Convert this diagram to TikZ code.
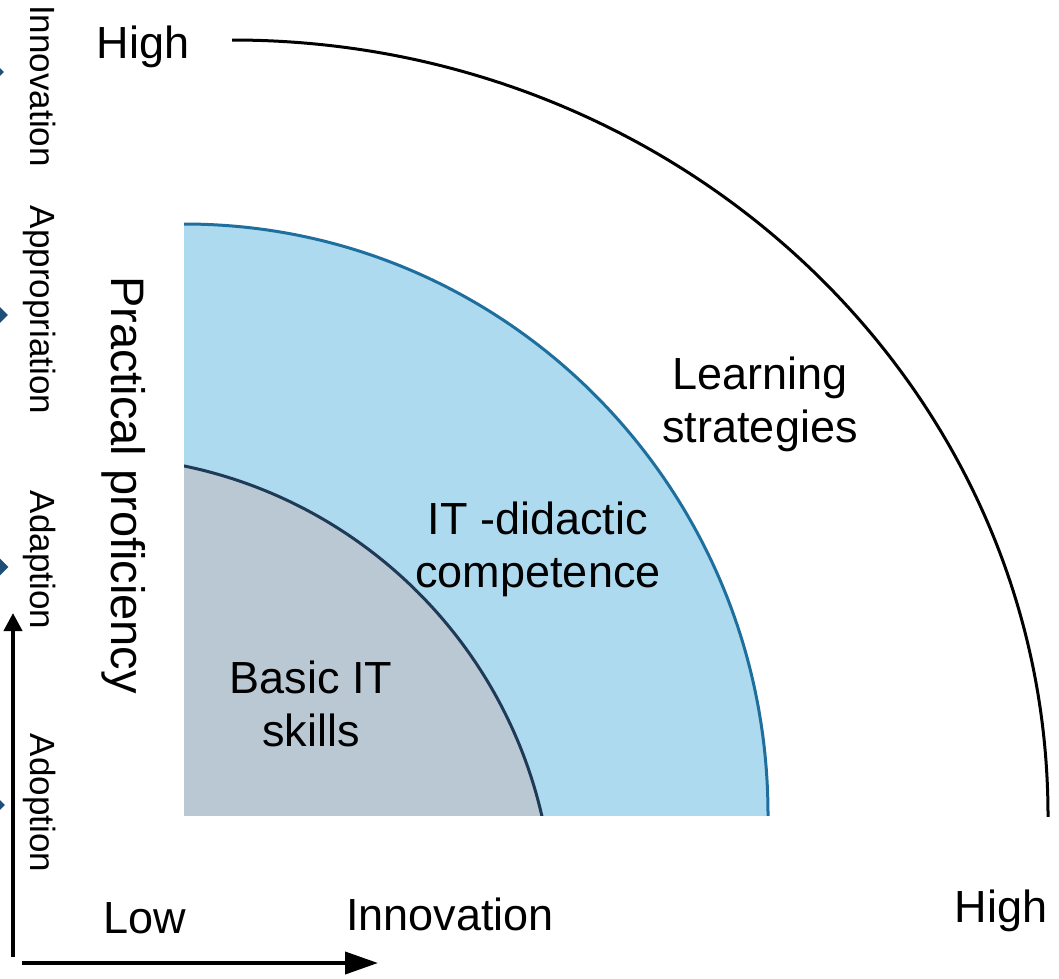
\documentclass[tikz,border=0pt]{standalone}
\usepackage{fontspec}
\setmainfont{Liberation Sans}
\usetikzlibrary{arrows.meta,shapes.geometric}
\definecolor{skyfill}{HTML}{ADDAEF}
\definecolor{skyline}{HTML}{1F6F9E}
\definecolor{greyfill}{HTML}{BAC8D3}
\definecolor{greyline}{HTML}{1E3A56}
\definecolor{navy}{HTML}{1F4E79}
\begin{document}
\begin{tikzpicture}[x=1pt,y=-1pt,
  big/.style={font=\fontsize{45}{53}\selectfont, inner sep=0pt},
  side/.style={font=\fontsize{35}{42}\selectfont, inner sep=0pt, rotate=-90, anchor=base},
  axisline/.style={line width=4pt},
  marker/.style={diamond, fill=navy, inner sep=0pt, draw=none}]
\clip (0,0) rectangle (1059,978);
\fill[white] (0,0) rectangle (1059,978);
% quadrant regions
\begin{scope}
  \clip (184,0) rectangle (1059,815);
  \fill[skyfill] (184,815) ellipse[x radius=584pt, y radius=591pt];
  \draw[skyline, line width=3pt] (184,815) ellipse[x radius=584pt, y radius=591pt];
  \fill[greyfill] (90,920) circle[radius=463.6pt];
  \draw[greyline, line width=3pt] (90,920) circle[radius=463.6pt];
\end{scope}
\begin{scope}
  \clip (232,0) rectangle (1059,816);
  \draw[line width=3pt] (232,816) ellipse[x radius=816pt, y radius=776pt];
\end{scope}
% labels
\node[big, anchor=base] (hightop) at (143,58) {High};
\node[big, anchor=base] (low) at (145,933) {Low};
\node[big, anchor=base] (innov) at (450,930) {Innovation};
\node[big, anchor=base] (highright) at (1001,922) {High};
\node[big, align=center, anchor=north] (learn) at (760,357) {Learning\\strategies};
\node[big, align=center, anchor=north] (itd) at (538,502) {IT -didactic\\competence};
\node[big, align=center, anchor=north] (basic) at (311,661) {Basic IT\\skills};
\node[font=\fontsize{47}{56}\selectfont, inner sep=0pt, rotate=-90, anchor=base] (prac) at (111,485) {Practical proficiency};
\node[side] (s1) at (30,86) {Innovation};
\node[side] (s2) at (30,310) {Appropriation};
\node[side] (s3) at (30,560) {Adaption};
\node[side] (s4) at (30,803) {Adoption};
% markers
\node[marker, minimum width=8pt, minimum height=8pt] (m1) at (0,72) {};
\node[marker, minimum width=16pt, minimum height=16pt] (m2) at (0,315) {};
\node[marker, minimum width=17pt, minimum height=17pt] (m3) at (0,567) {};
\node[marker, minimum width=10pt, minimum height=10pt] (m4) at (0,805) {};
% axes
\coordinate (vfoot) at (13,957);
\coordinate (vhead) at (13,613);
\draw[axisline, -{Triangle[length=18pt, width=18pt]}] (vfoot) -- (vhead);
\coordinate (hfoot) at (22,963);
\coordinate (hhead) at (378,963);
\draw[axisline, -{Triangle[length=33pt, width=22pt]}] (hfoot) -- (hhead);
\end{tikzpicture}
\end{document}
